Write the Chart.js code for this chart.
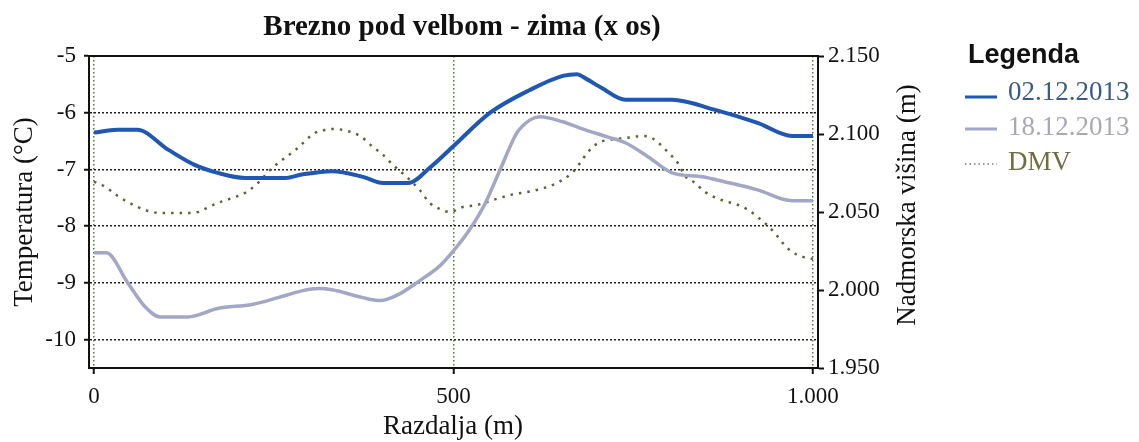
<!DOCTYPE html>
<html>
<head>
<meta charset="utf-8">
<title>Brezno pod velbom - zima</title>
<script src="https://cdn.jsdelivr.net/npm/chart.js@4.4.1/dist/chart.umd.min.js"></script>
<style>
  html, body { margin: 0; padding: 0; background: #fff; }
  #chart { display: block; }
</style>
</head>
<body>
<canvas id="chart" width="1139" height="442"></canvas>
<script>
// Distance along the profile (m) and measured temperature (°C), 02.12.2013
const DIST_0212 = [0, 32, 60, 103, 140, 172, 210, 266, 289, 331, 374, 402, 437, 467, 499,
  551, 606, 652, 672, 683, 707, 739, 804, 864, 923, 971, 1000];
const TEMP_0212 = [-6.35, -6.30, -6.30, -6.65, -6.92, -7.06, -7.15, -7.15, -7.09, -7.03, -7.13,
  -7.24, -7.24, -6.97, -6.60, -6.00, -5.60, -5.35, -5.32, -5.39, -5.57, -5.77, -5.77, -5.95,
  -6.18, -6.41, -6.41];

// 18.12.2013
const DIST_1812 = [0, 17, 47, 71, 92, 131, 172, 220, 256, 289, 312, 331, 374, 398, 421, 453,
  481, 499, 523, 544, 565, 588, 606, 620, 652, 676, 715, 739, 771, 804, 846, 878, 923, 971, 1000];
const TEMP_1812 = [-8.47, -8.47, -9.00, -9.42, -9.60, -9.60, -9.45, -9.38, -9.26, -9.14, -9.10,
  -9.12, -9.26, -9.31, -9.22, -8.96, -8.70, -8.45, -8.05, -7.60, -7.00, -6.36, -6.13, -6.07,
  -6.16, -6.27, -6.43, -6.53, -6.78, -7.06, -7.13, -7.22, -7.36, -7.55, -7.55];

// Terrain elevation from the DMV (m a.s.l.)
const DIST_DMV = [0, 11, 22, 33, 47, 71, 92, 136, 172, 196, 210, 228, 242, 256, 280, 307, 321,
  335, 346, 370, 388, 402, 416, 435, 453, 467, 481, 495, 513, 533, 555, 579, 616, 644, 666, 676,
  687, 701, 715, 739, 764, 776, 798, 812, 822, 836, 850, 873, 896, 910, 923, 933, 947, 958, 971,
  986, 1000];
const ELEV_DMV = [2069.5, 2067.3, 2064.1, 2060.3, 2056.4, 2051.3, 2049.4, 2049.4, 2055.8, 2059.6,
  2062.2, 2068.6, 2075.6, 2081.4, 2089.7, 2100.6, 2102.6, 2103.2, 2102.6, 2098.7, 2091.7, 2086.6,
  2080.1, 2072.4, 2064.1, 2055.8, 2051.9, 2050.0, 2053.2, 2054.5, 2057.7, 2060.9, 2064.1, 2068.6,
  2075.6, 2081.4, 2088.5, 2094.2, 2096.2, 2097.4, 2098.7, 2097.4, 2088.5, 2081.4, 2073.1, 2068.6,
  2062.8, 2057.7, 2054.5, 2051.3, 2046.8, 2043.0, 2036.5, 2030.1, 2024.4, 2021.2, 2019.9];

// Axis ticks
const X_TICKS = [0, 500, 1000];
const TEMP_TICKS = [-5, -6, -7, -8, -9, -10];
const ELEV_TICKS = [2150, 2100, 2050, 2000, 1950];

const SERIF = "'Liberation Serif', 'Times New Roman', serif";
const SANS = "'Liberation Sans', Arial, sans-serif";
const INK = '#111';

const toPoints = (xs, ys) => xs.map((x, i) => ({ x: x, y: ys[i] }));
const setTicks = (values) => (scale) => { scale.ticks = values.map(v => ({ value: v })); };
// 1000 -> "1.000", 2150 -> "2.150"
const thousands = (v) => Math.abs(v) >= 1000 ? (v / 1000).toFixed(3) : String(v);

// Title, axis titles, top frame line and the legend block on the right
const decorPlugin = {
  id: 'decor',
  afterDraw(chart) {
    const { ctx, chartArea: area } = chart;
    ctx.save();

    ctx.strokeStyle = INK;
    ctx.lineWidth = 2;
    ctx.beginPath();
    ctx.moveTo(area.left - 1, area.top);
    ctx.lineTo(area.right + 1, area.top);
    ctx.stroke();

    ctx.fillStyle = INK;
    ctx.textAlign = 'center';
    ctx.textBaseline = 'alphabetic';
    ctx.font = `bold 29px ${SERIF}`;
    ctx.fillText('Brezno pod velbom - zima (x os)', 462, 35);

    ctx.font = `27px ${SERIF}`;
    ctx.fillText('Razdalja (m)', 453, 434);

    ctx.textBaseline = 'middle';
    ctx.save();
    ctx.translate(25, 212);
    ctx.rotate(-Math.PI / 2);
    ctx.fillText('Temperatura (°C)', 0, 0);
    ctx.restore();

    ctx.save();
    ctx.translate(908, 205);
    ctx.rotate(-Math.PI / 2);
    ctx.fillText('Nadmorska višina (m)', 0, 0);
    ctx.restore();

    // legend
    ctx.textAlign = 'left';
    ctx.textBaseline = 'alphabetic';
    ctx.font = `bold 27px ${SANS}`;
    ctx.fillText('Legenda', 968, 63);

    const rows = [
      { ds: 0, textY: 93, lineY: 97, text: '#3c5a88', width: 3, dash: [] },
      { ds: 1, textY: 128, lineY: 129, text: '#a9a9b3', width: 3, dash: [] },
      { ds: 2, textY: 163, lineY: 164, text: '#6e6e40', width: 1.5, dash: [1.5, 3] }
    ];
    ctx.font = `27px ${SERIF}`;
    ctx.textBaseline = 'middle';
    rows.forEach(row => {
      const ds = chart.data.datasets[row.ds];
      ctx.strokeStyle = row.dash.length ? '#7a7a6a' : ds.borderColor;
      ctx.lineWidth = row.width;
      ctx.setLineDash(row.dash);
      ctx.beginPath();
      ctx.moveTo(965, row.lineY);
      ctx.lineTo(997, row.lineY);
      ctx.stroke();
      ctx.setLineDash([]);
      ctx.fillStyle = row.text;
      ctx.fillText(ds.label, 1008, row.textY);
    });

    ctx.restore();
  }
};

new Chart(document.getElementById('chart'), {
  type: 'line',
  data: {
    datasets: [
      {
        label: '02.12.2013',
        data: toPoints(DIST_0212, TEMP_0212),
        yAxisID: 'y',
        borderColor: '#1f57b2',
        borderWidth: 4,
        pointRadius: 0,
        cubicInterpolationMode: 'monotone'
      },
      {
        label: '18.12.2013',
        data: toPoints(DIST_1812, TEMP_1812),
        yAxisID: 'y',
        borderColor: '#a2a7c6',
        borderWidth: 3.5,
        pointRadius: 0,
        cubicInterpolationMode: 'monotone'
      },
      {
        label: 'DMV',
        data: toPoints(DIST_DMV, ELEV_DMV),
        yAxisID: 'y1',
        borderColor: '#5d6432',
        borderWidth: 2.5,
        borderDash: [2.5, 6],
        pointRadius: 0,
        cubicInterpolationMode: 'monotone'
      }
    ]
  },
  options: {
    responsive: false,
    animation: false,
    events: [],
    layout: { padding: { top: 56, left: 0, right: 0, bottom: 0 } },
    plugins: {
      legend: { display: false },
      title: { display: false },
      tooltip: { enabled: false }
    },
    scales: {
      x: {
        type: 'linear',
        min: -7,
        max: 1007,
        afterBuildTicks: setTicks(X_TICKS),
        afterFit: (s) => { s.height = 74; },
        grid: {
          color: '#4f7a3c',
          lineWidth: 1.5,
          tickColor: INK,
          tickLength: 6,
          tickWidth: 2
        },
        border: { color: INK, width: 2, dash: [1.5, 2.5] },
        ticks: {
          color: INK,
          padding: 9,
          maxRotation: 0,
          font: { family: SERIF, size: 23 },
          callback: thousands
        }
      },
      y: {
        position: 'left',
        min: -10.5,
        max: -5,
        afterBuildTicks: setTicks(TEMP_TICKS),
        afterFit: (s) => { s.width = 89; },
        grid: {
          color: (c) => c.tick && c.tick.value === -5 ? 'rgba(0,0,0,0)' : '#222',
          lineWidth: 1.5,
          tickColor: INK,
          tickLength: 5,
          tickWidth: 2
        },
        border: { color: INK, width: 2, dash: [2, 2] },
        ticks: {
          color: INK,
          padding: 8,
          font: { family: SERIF, size: 23 },
          callback: (v) => String(v)
        }
      },
      y1: {
        position: 'right',
        min: 1950,
        max: 2150,
        afterBuildTicks: setTicks(ELEV_TICKS),
        afterFit: (s) => { s.width = 321; },
        grid: {
          drawOnChartArea: false,
          tickColor: INK,
          tickLength: 6,
          tickWidth: 2
        },
        border: { color: INK, width: 2 },
        ticks: {
          color: INK,
          padding: 4,
          font: { family: SERIF, size: 23 },
          callback: thousands
        }
      }
    }
  },
  plugins: [decorPlugin]
});
</script>
</body>
</html>
